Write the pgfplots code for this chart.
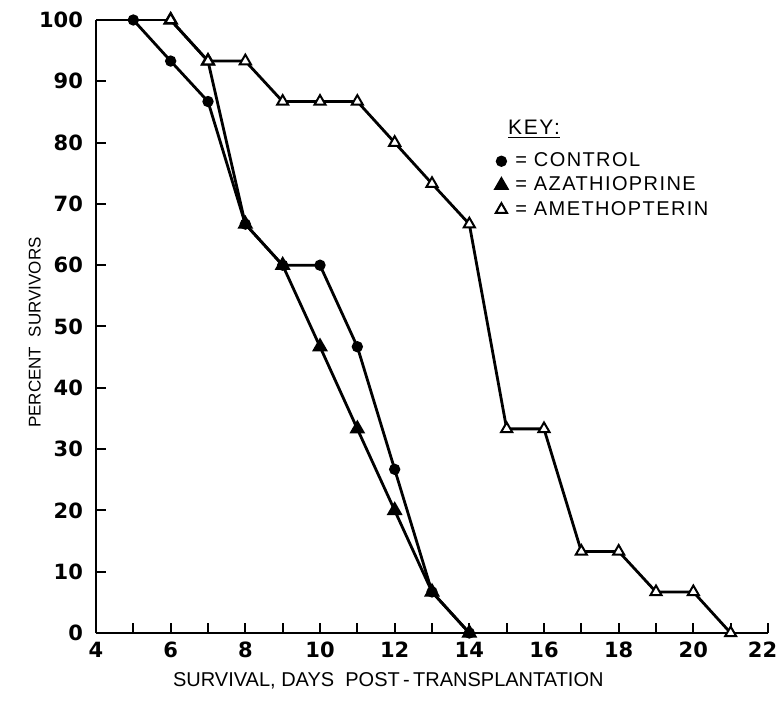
\documentclass[border=0pt]{standalone}
\usepackage{fontspec}
\setmainfont{Liberation Sans}
\newfontfamily\tickfont{DejaVu Sans}
\usepackage{pgfplots}
\pgfplotsset{compat=1.18}
\begin{document}
\begin{tikzpicture}
\path[use as bounding box] (-48pt,-33.5pt) rectangle (341.5pt,316.5pt);
\begin{axis}[
  at={(0,0)}, anchor=south west,
  scale only axis, width=336pt, height=306.5pt,
  xmin=4, xmax=22, ymin=0, ymax=100,
  axis x line=bottom, axis y line=left,
  axis line style={-, line width=1.2pt},
  xtick={4,6,...,22}, minor xtick={5,7,...,21},
  xticklabels={4,6,8,10,12,14,16,18,20,{\hspace*{-5.5pt}22}},
  ytick={0,10,...,100},
  tick align=inside, major tick length=5pt, minor tick length=5pt,
  every tick/.style={black, line width=1pt},
  /pgf/number format/assume math mode=true,
  tick label style={font=\tickfont\bfseries\fontsize{10.5}{11}\selectfont},
  yticklabel style={anchor=east, xshift=-3pt},
  xticklabel style={yshift=-1pt},
  xlabel={SURVIVAL, DAYS\ \ POST\,-\,TRANSPLANTATION},
  ylabel={PERCENT\ \ SURVIVORS},
  xlabel style={at={(axis description cs:0.435,-0.078)}, anchor=center, font=\fontsize{10}{12}\selectfont},
  ylabel style={at={(axis description cs:-0.091,0.49)}, anchor=center, font=\fontsize{8.5}{10}\selectfont},
  clip=false,
  legend style={draw=none, fill=none, at={(axis cs:14.7,78.8)}, anchor=north west,
    font=\fontsize{10}{10}\selectfont\addfontfeature{LetterSpace=7},
    row sep=1.2pt, inner sep=0pt, nodes={inner sep=1.2pt},
    /tikz/every odd column/.append style={column sep=3pt}},
  legend cell align=left,
  legend image code/.code={\draw[#1, only marks] plot coordinates {(0.1cm,0cm)};},
]
\addplot[black, line width=1.4pt, mark=*, mark size=2.1pt] coordinates {
(5,100)(6,93.3)(7,86.7)(8,66.7)(9,60)(10,60)(11,46.7)(12,26.7)(13,6.7)(14,0)};
\addlegendentry{= CONTROL}
\addplot[black, line width=1.4pt, mark=triangle*, mark size=3.2pt, mark options={fill=black}] coordinates {
(6,100)(7,93.3)(8,66.7)(9,60)(10,46.7)(11,33.3)(12,20)(13,6.7)(14,0)};
\addlegendentry{= AZATHIOPRINE}
\addplot[black, line width=1.4pt, mark=triangle*, mark size=3.2pt, mark options={fill=white, line width=1pt}] coordinates {
(6,100)(7,93.3)(8,93.3)(9,86.7)(10,86.7)(11,86.7)(12,80)(13,73.3)(14,66.7)(15,33.3)(16,33.3)(17,13.3)(18,13.3)(19,6.7)(20,6.7)(21,0)};
\addlegendentry{= AMETHOPTERIN}
\addplot[black, line width=1.4pt, forget plot] coordinates {(4,100)(5,100)(6,100)};
\node[anchor=west, font=\fontsize{10.5}{11}\selectfont\addfontfeature{LetterSpace=8}] at (axis cs:14.85,82.2) {\underline{KEY:}};
\end{axis}
\end{tikzpicture}
\end{document}
